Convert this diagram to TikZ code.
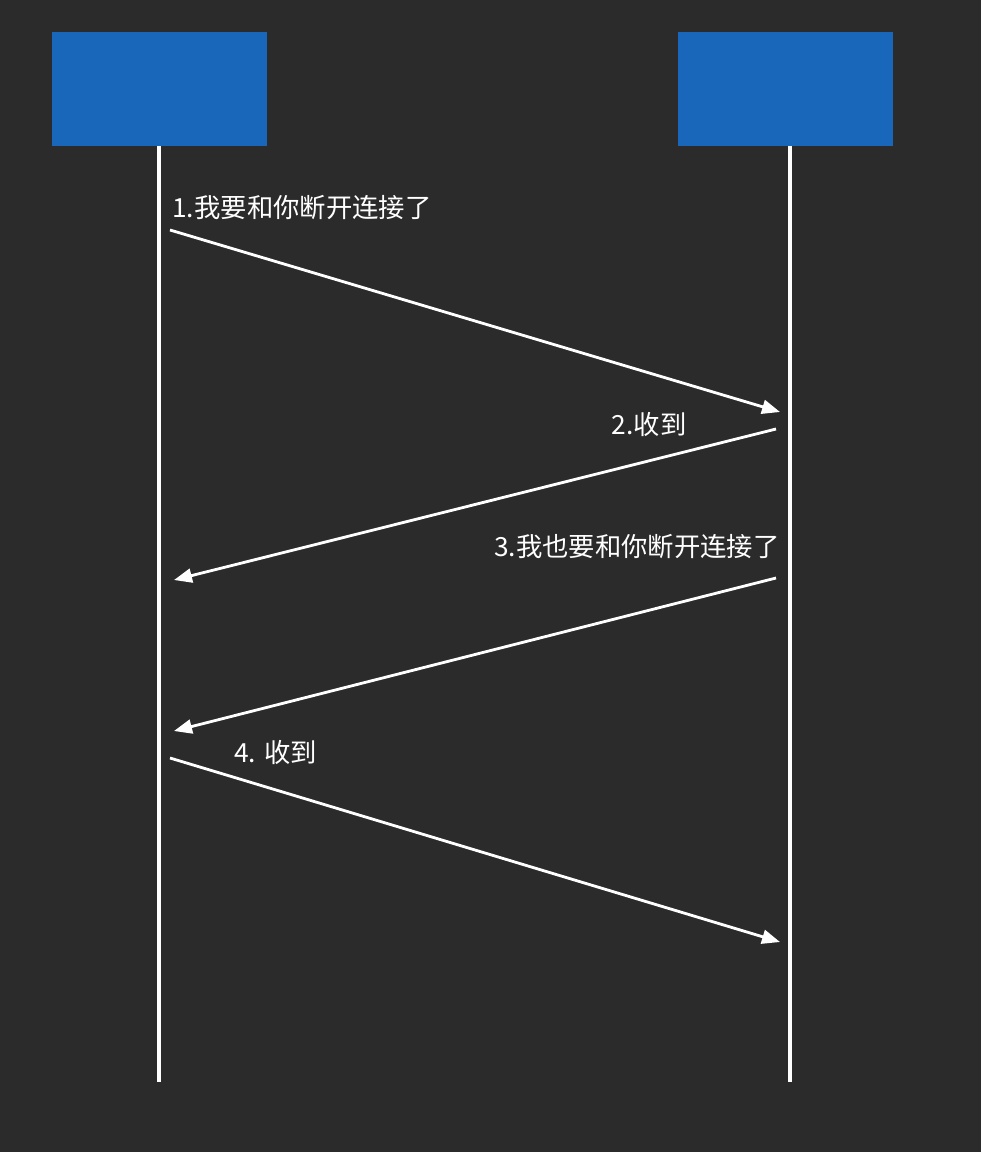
\documentclass[tikz,border=0pt]{standalone}
\usepackage{fontspec}
\newfontfamily\cjk{Noto Sans CJK SC}
\usetikzlibrary{arrows.meta,positioning}
\definecolor{bgdark}{HTML}{2B2B2B}
\definecolor{hostblue}{HTML}{1967BA}
\tikzset{
  host/.style={draw=none,rectangle,fill=hostblue,minimum width=4.3cm,minimum height=2.28cm},
  lifeline/.style={draw=white,line width=1.8pt},
  msg/.style={-{Triangle[length=3.6mm,width=2.8mm]},draw=white,line width=1.6pt},
  lbl/.style={text=white,font=\cjk\fontsize{15pt}{18pt}\selectfont,inner sep=0pt}
}
\begin{document}
\begin{tikzpicture}[x=0.02cm,y=-0.02cm]
  \useasboundingbox (0,0) rectangle (980,1152);
  \fill[bgdark] (-10,-10) rectangle (990,1162);

  % Hosts
  \node[host] (client) at (159.5,89) {};
  \node[host] (server) at (785.5,89) {};

  % Lifelines
  \coordinate (cEnd) at (159,1082);
  \coordinate (sEnd) at (790,1082);
  \draw[lifeline] (client.south -| cEnd) -- (cEnd);
  \draw[lifeline] (server.south -| sEnd) -- (sEnd);

  % Message end points
  \coordinate (m1a) at (170,230);  \coordinate (m1b) at (780,412);
  \coordinate (m2a) at (776,429);  \coordinate (m2b) at (174,580);
  \coordinate (m3a) at (776,578);  \coordinate (m3b) at (174,731);
  \coordinate (m4a) at (170,758);  \coordinate (m4b) at (780,942);

  % Messages
  \draw[msg] (m1a) -- (m1b);
  \draw[msg] (m2a) -- (m2b);
  \draw[msg] (m3a) -- (m3b);
  \draw[msg] (m4a) -- (m4b);

  % Labels
  \node[lbl,anchor=west] (l1) at (172,208) {1.我要和你断开连接了};
  \node[lbl,anchor=east] (l2) at (687,424) {2.收到};
  \node[lbl,anchor=east] (l3) at (780,547) {3.我也要和你断开连接了};
  \node[lbl,anchor=west] (l4) at (234,752) {4. 收到};
\end{tikzpicture}
\end{document}
